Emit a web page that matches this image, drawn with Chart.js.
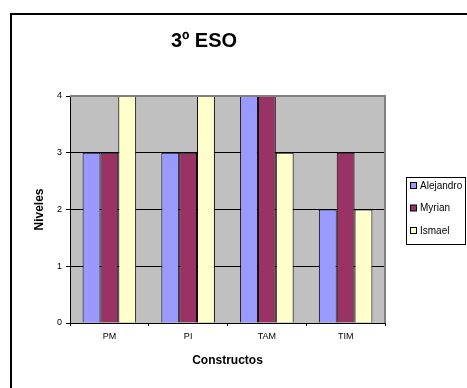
<!DOCTYPE html>
<html>
<head>
<meta charset="utf-8">
<script src="https://cdn.jsdelivr.net/npm/chart.js@4"></script>
<style>
  body { margin: 0; background: #fff; }
  canvas { display: block; }
</style>
</head>
<body>
<canvas id="myChart" width="467" height="388"></canvas>
<script>
let categories = ["PM", "PI", "TAM", "TIM"]
let alejandro = [3, 3, 4, 2]
let myrian = [3, 3, 4, 3]
let ismael = [4, 4, 3, 2]
let yTicks = [0, 1, 2, 3, 4]

const FONT = "Arial, 'Liberation Sans', sans-serif"

// grey plot area + outer frame
const backdrop = {
    id: "backdrop",
    beforeDraw(chart) {
        const ctx = chart.ctx
        const a = chart.chartArea
        ctx.save()
        ctx.fillStyle = "#fff"
        ctx.fillRect(0, 0, chart.width, chart.height)
        ctx.strokeStyle = "#000"
        ctx.lineWidth = 2
        ctx.strokeRect(11, 14, 600, 600)
        ctx.fillStyle = "#c0c0c0"
        ctx.fillRect(a.left, a.top, a.right - a.left, a.bottom - a.top)
        ctx.restore()
    },
    afterDraw(chart) {
        const ctx = chart.ctx
        const a = chart.chartArea
        ctx.save()
        ctx.strokeStyle = "#808080"
        ctx.lineWidth = 2
        ctx.beginPath()
        ctx.moveTo(a.left, a.top)
        ctx.lineTo(a.right, a.top)
        ctx.lineTo(a.right, a.bottom)
        ctx.stroke()
        ctx.restore()
    }
}

// boxed legend on the right like the excel one
const boxLegend = {
    id: "boxLegend",
    afterDraw(chart) {
        const ctx = chart.ctx
        const x = 406, y = 177, w = 59, h = 67
        ctx.save()
        ctx.fillStyle = "#fff"
        ctx.fillRect(x, y, w, h)
        ctx.strokeStyle = "#000"
        ctx.lineWidth = 1
        ctx.strokeRect(x + 0.5, y + 0.5, w, h)
        ctx.font = "10px " + FONT
        ctx.textBaseline = "middle"
        chart.data.datasets.forEach((ds, i) => {
            const cy = 186 + i * 22.5
            ctx.fillStyle = ds.backgroundColor
            ctx.fillRect(410.5, cy - 3.5, 6, 6)
            ctx.strokeStyle = "#000"
            ctx.strokeRect(410.5, cy - 3.5, 6, 6)
            ctx.fillStyle = "#000"
            ctx.fillText(ds.label, 420, cy)
        })
        ctx.restore()
    }
}

const data = {
    labels: categories,
    datasets: [
        { label: "Alejandro", data: alejandro, backgroundColor: "#9999ff" },
        { label: "Myrian", data: myrian, backgroundColor: "#993366" },
        { label: "Ismael", data: ismael, backgroundColor: "#ffffcc" }
    ]
}
data.datasets.forEach(d => {
    d.borderColor = "#000"
    d.borderWidth = 1
    d.barPercentage = 1
    d.categoryPercentage = 0.68
})

const config = {
    type: "bar",
    data: data,
    options: {
        responsive: false,
        animation: false,
        devicePixelRatio: 1,
        layout: { padding: { left: 23, right: 82, top: 0, bottom: 0 } },
        plugins: {
            legend: { display: false },
            tooltip: { enabled: false },
            title: {
                display: true,
                text: "3º ESO",
                color: "#000",
                font: { family: FONT, size: 20, weight: "bold" },
                padding: { top: 29, bottom: 43 }
            }
        },
        scales: {
            x: {
                afterFit(scale) { scale.height = 65 },
                grid: { drawOnChartArea: false, color: "#000", tickLength: 3 },
                border: { color: "#000", width: 1 },
                ticks: { color: "#000", font: { family: FONT, size: 9 }, padding: 5 },
                title: {
                    display: true,
                    text: "Constructos",
                    color: "#000",
                    font: { family: FONT, size: 12, weight: "bold" },
                    padding: { top: 0, bottom: 20 }
                }
            },
            y: {
                min: 0,
                max: 4,
                afterFit(scale) { scale.width = 47 },
                afterBuildTicks(scale) { scale.ticks = yTicks.map(v => ({ value: v })) },
                grid: { color: "#000", tickLength: 4 },
                border: { color: "#000", width: 1 },
                ticks: { color: "#000", font: { family: FONT, size: 9 }, padding: 4 },
                title: {
                    display: true,
                    text: "Niveles",
                    color: "#000",
                    font: { family: FONT, size: 12, weight: "bold" },
                    padding: { top: 9, bottom: 0 }
                }
            }
        }
    },
    plugins: [backdrop, boxLegend]
}

const myChart = new Chart(document.getElementById("myChart"), config)
</script>
</body>
</html>
